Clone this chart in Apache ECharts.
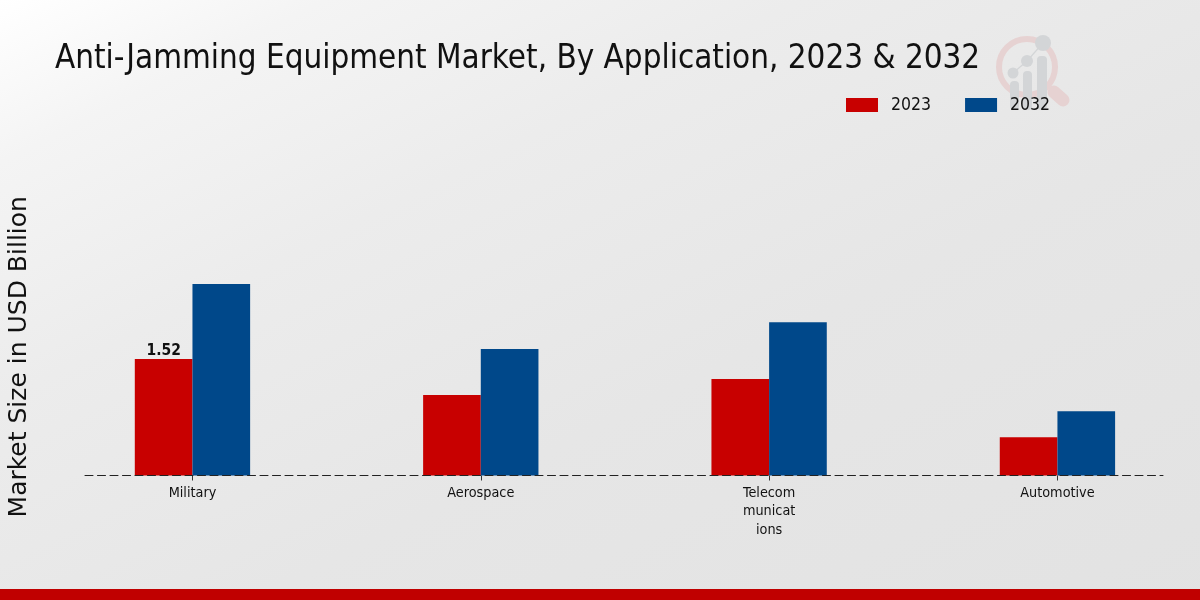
<!DOCTYPE html>
<html><head><meta charset="utf-8">
<style>html,body{margin:0;padding:0;background:#e6e6e6}#c{width:1200px;height:600px}</style>
<script src="https://cdn.jsdelivr.net/npm/echarts@6/dist/echarts.min.js"></script>
</head><body><div id="c"></div>
<script>
const categories = ['Military','Aerospace','Telecom\nmunicat\nions','Automotive'];
const values2023 = [1.52,1.05,1.26,0.5];
const values2032 = [2.5,1.65,2.0,0.84];
const titleText = 'Anti-Jamming Equipment Market, By Application, 2023 & 2032';
const yTitle = 'Market Size in USD Billion';
const cond = '"DejaVu Sans Condensed","DejaVu Sans"';
const chart = echarts.init(document.getElementById('c'),null,{renderer:'canvas'});
const grey='#d3d5d7', pink='#e6d2d2';
const logo=[
 {type:'arc',shape:{cx:1027,cy:67,r:28,startAngle:0,endAngle:Math.PI*2},style:{stroke:pink,lineWidth:6,fill:'transparent'},silent:true},
 {type:'line',shape:{x1:1054,y1:92,x2:1063,y2:100},style:{stroke:pink,lineWidth:13,lineCap:'round'},silent:true},
 {type:'polyline',shape:{points:[[1013,73],[1027,61],[1043,43]]},style:{stroke:grey,lineWidth:1.2,fill:null},silent:true},
 {type:'rect',shape:{x:1010,y:81,width:9,height:29,r:4},style:{fill:grey},silent:true},
 {type:'rect',shape:{x:1023,y:71,width:9,height:39,r:4},style:{fill:grey},silent:true},
 {type:'rect',shape:{x:1037,y:56,width:10,height:54,r:4},style:{fill:grey},silent:true},
 {type:'circle',shape:{cx:1013,cy:73,r:5.5},style:{fill:grey},silent:true},
 {type:'circle',shape:{cx:1027,cy:61,r:6},style:{fill:grey},silent:true},
 {type:'circle',shape:{cx:1043,cy:43,r:8},style:{fill:grey},silent:true}
];
chart.setOption({
 animation:false,
 backgroundColor:{type:'linear',global:true,x:0,y:0,x2:500,y2:1000,colorStops:[{offset:0,color:'#ffffff'},{offset:0.13,color:'#f4f4f4'},{offset:0.32,color:'#ececec'},{offset:0.58,color:'#e6e6e6'},{offset:1,color:'#e2e2e2'}]},
 textStyle:{fontFamily:cond},
 title:{text:titleText,left:50,top:38,textStyle:{fontFamily:cond,fontSize:32.9,fontWeight:'normal',color:'#111'}},
 legend:{data:['2023','2032'],left:841,top:91,itemWidth:32,itemHeight:14,itemGap:34,icon:'rect',
   textStyle:{fontFamily:cond,fontSize:17.5,color:'#111',padding:[0,0,0,8]}},
 grid:[{left:48.3,width:1153.3,top:238,height:237.5,outerBoundsMode:'none'},{left:85,width:1078,top:238,height:237.5,outerBoundsMode:'none'}],
 xAxis:[
  {type:'category',gridIndex:0,data:categories,axisLine:{show:false},
   axisTick:{show:true,alignWithLabel:true,length:5,lineStyle:{color:'#333'}},
   axisLabel:{fontFamily:cond,fontSize:14.3,color:'#111',lineHeight:18.5,margin:8.5,interval:0}},
  {type:'value',gridIndex:1,min:0,max:1,axisLine:{show:true,lineStyle:{color:'#222',width:1,type:[8,4.5]}},
   axisTick:{show:false},axisLabel:{show:false},splitLine:{show:false},z:5}
 ],
 yAxis:[
  {type:'value',gridIndex:0,min:0,max:3.1,name:yTitle,nameLocation:'middle',nameGap:16,
   nameTextStyle:{fontFamily:'"DejaVu Sans"',fontSize:25,color:'#111'},
   axisLine:{show:false},axisTick:{show:false},axisLabel:{show:false},splitLine:{show:false}},
  {type:'value',gridIndex:1,min:0,max:1,show:false}
 ],
 series:[
  {name:'2023',type:'bar',xAxisIndex:0,yAxisIndex:0,barWidth:'20%',barGap:0,itemStyle:{color:'#c80000'},
   data:values2023.map((v,i)=>i===0?{value:v,label:{show:true,position:'top',distance:0,fontFamily:cond,fontSize:15.5,fontWeight:'bold',color:'#111',formatter:'{c}'}}:v)},
  {name:'2032',type:'bar',xAxisIndex:0,yAxisIndex:0,barWidth:'20%',barGap:0,itemStyle:{color:'#00488a'},data:values2032}
 ],
 graphic:[...logo,
  {type:'rect',shape:{x:0,y:589,width:1200,height:11},style:{fill:'#c00000'},silent:true}]
});
</script></body></html>
